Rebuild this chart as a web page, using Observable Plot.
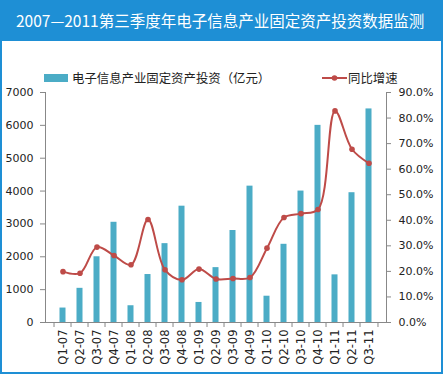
<!DOCTYPE html>
<html><head><meta charset="utf-8">
<script src="https://cdn.jsdelivr.net/npm/d3@7"></script>
<script src="https://cdn.jsdelivr.net/npm/@observablehq/plot@0.6"></script>
<style>
body{margin:0;background:#fff;}
#wrap{position:relative;width:445px;height:376px;overflow:hidden;background:#fff;}
#border{position:absolute;left:0;top:0;width:443px;height:374px;box-sizing:border-box;border:2px solid #1e8fd5;}
#head{position:absolute;left:0;top:0;width:443px;height:41px;background:#1e8fd5;color:#fff;font-family:"Noto Sans CJK SC";font-size:15.5px;line-height:41px;padding-left:16px;box-sizing:border-box;white-space:nowrap;}
#legend{position:absolute;left:0;top:68px;width:445px;height:20px;font-family:"Noto Sans CJK SC";font-size:12.4px;color:#222;}
#legend .it{position:absolute;top:0;display:flex;align-items:center;height:20px;white-space:nowrap;}
#chart{position:absolute;left:0;top:86px;}
</style></head>
<body>
<div id="wrap">
<div id="head">2007—2011第三季度年电子信息产业固定资产投资数据监测</div>
<div id="legend">
 <div class="it" style="left:44px"><span style="display:inline-block;width:24px;height:8px;background:#4bacc6;margin-right:4px"></span>电子信息产业固定资产投资（亿元）</div>
 <div class="it" style="left:322px"><svg width="25" height="10" style="margin-right:1px"><line x1="0" y1="5" x2="25" y2="5" stroke="#be4b48" stroke-width="2"/><circle cx="12.5" cy="5" r="2.8" fill="#be4b48"/></svg>同比增速</div>
</div>
<div id="chart"></div>
<div id="border"></div>
</div>
<script>
const cats = ["Q1-07","Q2-07","Q3-07","Q4-07","Q1-08","Q2-08","Q3-08","Q4-08","Q1-09","Q2-09","Q3-09","Q4-09","Q1-10","Q2-10","Q3-10","Q4-10","Q1-11","Q2-11","Q3-11"];
const invest = [440,1040,2000,3050,510,1460,2400,3540,610,1670,2800,4150,800,2380,4000,6000,1450,3950,6500];
const growth = [19.9,19.3,29.5,26.2,22.6,40.3,20.6,16.7,20.9,17.0,17.2,17.6,29.1,41.1,42.6,44.2,82.8,67.8,62.3];
const leftTicks = [0,1000,2000,3000,4000,5000,6000,7000];
const rightTicks = [0,10,20,30,40,50,60,70,80,90];

const data = cats.map((c,i)=>({cat:c, invest:invest[i], growth:growth[i]}));
const W = 445, H = 290, mL = 45, mR = 59, mT = 6, mB = 54;
const k = 7000/90;
const bw = (W - mL - mR)/cats.length;
const tickLen = 5*7000/(H-mT-mB);

const chart = Plot.plot({
  width: W, height: H, marginLeft: mL, marginRight: mR, marginTop: mT, marginBottom: mB,
  style: {fontFamily: "DejaVu Sans", fontSize: "11px", color: "#222", background: "transparent", overflow: "visible"},
  x: {domain: cats, padding: 0},
  y: {domain: [0, 7000]},
  marks: [
    Plot.barY(data, {x: "cat", y: "invest", fill: "#4bacc6", insetLeft: 5.5, insetRight: 5.5}),
    Plot.ruleY([0], {stroke: "#888"}),
    Plot.frame({anchor: "left", stroke: "#888"}),
    Plot.frame({anchor: "right", stroke: "#888"}),
    Plot.ruleX(cats, {x: d => d, y1: 0, y2: -tickLen, dx: -bw/2, stroke: "#888", clip: false}),
    Plot.ruleX([cats[cats.length-1]], {x: d => d, y1: 0, y2: -tickLen, dx: bw/2, stroke: "#888", clip: false}),
    Plot.axisY({ticks: leftTicks, tickSize: 5, tickPadding: 7, tickFormat: d => String(d), label: null, stroke: "#888", fill: "#222"}),
    Plot.axisY({anchor: "right", ticks: rightTicks.map(p => p*k), tickFormat: d => (d/k).toFixed(1) + "%", tickSize: 4, tickPadding: 8, label: null, stroke: "#888", fill: "#222"}),
    Plot.axisX({tickSize: 0, tickRotate: -90, tickPadding: 7, label: null, fill: "#222", fontSize: 11.5}),
    Plot.line(data, {x: "cat", y: d => d.growth*k, stroke: "#be4b48", strokeWidth: 2, curve: "catmull-rom"}),
    Plot.dot(data, {x: "cat", y: d => d.growth*k, r: 2.8, fill: "#be4b48"})
  ]
});
document.getElementById("chart").appendChild(chart);
</script>
</body></html>
